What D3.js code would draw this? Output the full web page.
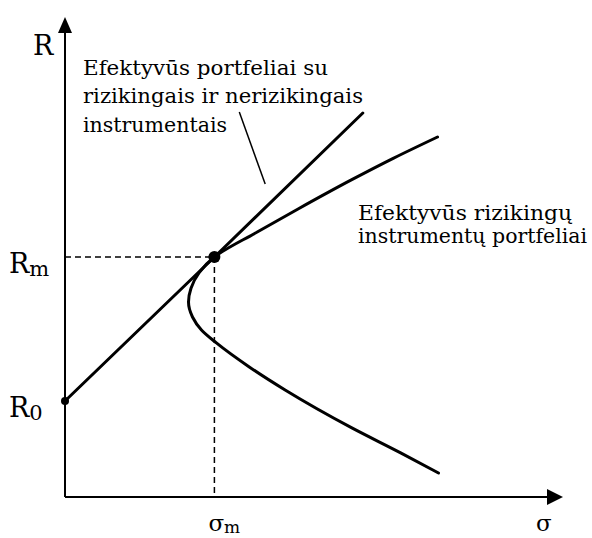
<!DOCTYPE html>
<html>
<head>
<meta charset="utf-8">
<script src="https://cdn.jsdelivr.net/npm/d3@7"></script>
<style>
  html, body { margin: 0; padding: 0; background: #fff; }
  svg { display: block; }
  text { font-family: "DejaVu Serif", serif; fill: #000; }
</style>
</head>
<body>
<script>
// values (sigma, R) in arbitrary units 0..100
// frontier listed from its lower end up to its upper end
const frontier = [
  [75, 5.0], [67.4, 9.2], [57.6, 14.4], [44.2, 22.3], [37, 27.1],
  [30.4, 32.1], [27.4, 34.8], [25.6, 37.5], [24.8, 40.6], [25.3, 43.5],
  [26.9, 46.7], [30, 50.0], [38.6, 55.2], [46.8, 60.0], [57.4, 66.0],
  [66, 70.6], [74.8, 75.0]
];
const capitalLine = [[0, 20.0], [30, 50.0], [59.8, 80.0]];
const marketPoint = [30, 50.0];
const riskFree = [0, 20.0];
const leader = [[35, 80.2], [40.2, 65.2]];

const yTicks = [
  { value: 50.0, main: "R", sub: "m" },
  { value: 20.0, main: "R", sub: "0" }
];
const xTicks = [{ value: 30, main: "σ", sub: "m" }];

const labelCml = ["Efektyvūs portfeliai su", "rizikingais ir nerizikingais", "instrumentais"];
const labelFrontier = ["Efektyvūs rizikingų", "instrumentų portfeliai"];

const width = 592;
const height = 538;

const svg = d3.select("body").append("svg")
  .attr("width", width)
  .attr("height", height);

const x = d3.scaleLinear().domain([0, 100]).range([65, 563]);
const y = d3.scaleLinear().domain([0, 100]).range([497, 17]);

// axes
const x0 = x(0), y0 = y(0), xEnd = x(100), yEnd = y(100);
svg.append("line")
  .attr("x1", x0).attr("y1", y0).attr("x2", x0).attr("y2", yEnd + 10)
  .attr("stroke", "#000").attr("stroke-width", 2);
svg.append("line")
  .attr("x1", x0).attr("y1", y0).attr("x2", xEnd - 10).attr("y2", y0)
  .attr("stroke", "#000").attr("stroke-width", 2);
svg.append("path")
  .attr("d", `M${x0},${yEnd}L${x0 - 7},${yEnd + 16}L${x0 + 7},${yEnd + 16}Z`)
  .attr("fill", "#000");
svg.append("path")
  .attr("d", `M${xEnd},${y0}L${xEnd - 16},${y0 - 8}L${xEnd - 16},${y0 + 8}Z`)
  .attr("fill", "#000");

// axis titles
svg.append("text").attr("x", 33).attr("y", 55)
  .style("font-size", "27px").text("R");
svg.append("text").attr("x", 536).attr("y", 531)
  .style("font-size", "23px").text("σ");

// dashed guides to the market portfolio
svg.append("line")
  .attr("x1", x0).attr("y1", y(marketPoint[1]))
  .attr("x2", x(marketPoint[0])).attr("y2", y(marketPoint[1]))
  .attr("stroke", "#000").attr("stroke-width", 1.5).attr("stroke-dasharray", "6,4");
svg.append("line")
  .attr("x1", x(marketPoint[0])).attr("y1", y(marketPoint[1]))
  .attr("x2", x(marketPoint[0])).attr("y2", y0)
  .attr("stroke", "#000").attr("stroke-width", 1.5).attr("stroke-dasharray", "6,4");

// tick labels with subscripts
const yLab = svg.selectAll("text.ytick").data(yTicks).join("text")
  .attr("class", "ytick")
  .attr("x", 9)
  .attr("y", (d) => y(d.value) + 16)
  .style("font-size", "27px");
yLab.append("tspan").text((d) => d.main);
yLab.append("tspan").attr("dy", 3).style("font-size", "21px").text((d) => d.sub);

const xLab = svg.selectAll("text.xtick").data(xTicks).join("text")
  .attr("class", "xtick")
  .attr("x", (d) => x(d.value) - 6)
  .attr("y", 531)
  .style("font-size", "23px");
xLab.append("tspan").text((d) => d.main);
xLab.append("tspan").attr("dy", 2).style("font-size", "17px").text((d) => d.sub);

// efficient frontier (x is a function of R, so monotone in y)
svg.append("path")
  .datum(frontier)
  .attr("d", d3.line().x((d) => x(d[0])).y((d) => y(d[1])).curve(d3.curveMonotoneY))
  .attr("fill", "none").attr("stroke", "#000").attr("stroke-width", 3)
  .attr("stroke-linecap", "round");

// capital market line
svg.append("path")
  .datum(capitalLine)
  .attr("d", d3.line().x((d) => x(d[0])).y((d) => y(d[1])))
  .attr("fill", "none").attr("stroke", "#000").attr("stroke-width", 3)
  .attr("stroke-linecap", "round");

// points
svg.append("circle").attr("cx", x(marketPoint[0])).attr("cy", y(marketPoint[1]))
  .attr("r", 6).attr("fill", "#000");
svg.append("circle").attr("cx", x(riskFree[0])).attr("cy", y(riskFree[1]))
  .attr("r", 4).attr("fill", "#000");

// annotation leader
svg.append("line")
  .attr("x1", x(leader[0][0])).attr("y1", y(leader[0][1]))
  .attr("x2", x(leader[1][0])).attr("y2", y(leader[1][1]))
  .attr("stroke", "#000").attr("stroke-width", 1.5);

// annotation text blocks
function textBlock(lines, left, baselines, widths) {
  svg.append("g").selectAll("text").data(lines).join("text")
    .attr("x", left)
    .attr("y", (d, i) => baselines[i])
    .attr("textLength", (d, i) => widths[i])
    .attr("lengthAdjust", "spacingAndGlyphs")
    .style("font-size", "20px")
    .text((d) => d);
}
textBlock(labelCml, 83, [75, 103, 132], [245, 280, 144]);
textBlock(labelFrontier, 358, [220, 243], [214, 229]);
</script>
</body>
</html>
